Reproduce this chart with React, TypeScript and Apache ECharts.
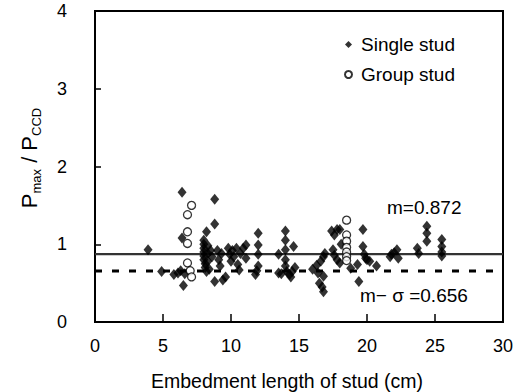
import React, { useEffect, useRef } from "react";
import * as echarts from "echarts";

const singleStud: number[][] = [
  [3.9, 0.93], [4.9, 0.65], [5.8, 0.61], [6.1, 0.63], [6.3, 0.66], [6.4, 1.67], [6.4, 1.08],
  [6.5, 0.47], [6.6, 0.62],
  [8.0, 1.05], [8.0, 1.0], [8.0, 0.95], [8.0, 0.9], [8.0, 0.85], [8.0, 0.8], [8.1, 0.75],
  [8.1, 0.7], [8.2, 0.65], [8.2, 1.16], [8.3, 0.98], [8.3, 0.88], [8.3, 0.78], [8.4, 0.68],
  [8.5, 0.92], [8.6, 0.84], [8.8, 1.58], [8.8, 1.26], [8.8, 0.52],
  [9.0, 0.92], [9.1, 0.8], [9.2, 0.72], [9.3, 0.88], [9.4, 0.54], [9.6, 0.58],
  [9.8, 0.95], [9.9, 0.87], [10.0, 0.78], [10.1, 0.92], [10.2, 0.84], [10.4, 0.95],
  [10.5, 0.74], [10.6, 0.67], [10.7, 0.88], [10.9, 0.95], [11.1, 0.99], [11.1, 0.82],
  [11.8, 0.61], [11.9, 0.66], [12.0, 1.14], [12.0, 0.99], [12.0, 0.87], [12.0, 0.72],
  [13.5, 0.87], [13.5, 0.63], [13.7, 0.62],
  [14.0, 1.17], [14.0, 1.05], [14.0, 0.93], [14.0, 0.8], [14.0, 0.72], [14.1, 0.65],
  [14.3, 0.61], [14.5, 0.65], [14.6, 0.97], [14.7, 0.7], [14.4, 0.58],
  [16.0, 0.68], [16.3, 0.73], [16.4, 0.63], [16.5, 0.5], [16.6, 0.78], [16.7, 0.45],
  [16.8, 0.39], [16.8, 0.59], [16.8, 0.84], [16.9, 0.88],
  [17.4, 1.17], [17.5, 0.93], [17.6, 1.12], [17.6, 0.86], [17.8, 1.19], [17.8, 0.8],
  [18.0, 1.19], [18.0, 0.76], [18.1, 1.0], [18.8, 0.69],
  [19.3, 0.74], [19.4, 0.52], [19.7, 1.19], [19.7, 0.97], [19.8, 0.87], [19.9, 0.82],
  [20.0, 0.8], [20.2, 0.78], [20.7, 0.72],
  [21.7, 0.84], [21.8, 0.87], [22.0, 0.89], [22.2, 0.93], [22.3, 0.82],
  [23.7, 0.95], [23.8, 0.88], [24.4, 1.23], [24.4, 1.14], [24.4, 1.04],
  [25.5, 1.06], [25.5, 0.97], [25.5, 0.9], [25.5, 0.85],
];

const groupStud: number[][] = [
  [6.8, 1.38], [7.1, 1.5], [6.8, 1.16], [6.8, 1.01], [6.8, 0.76], [7.0, 0.66], [7.1, 0.58],
  [18.5, 1.31], [18.5, 1.12], [18.5, 1.04], [18.5, 0.96], [18.5, 0.9], [18.5, 0.84], [18.5, 0.79],
];

const meanValue = 0.872;
const meanMinusSigma = 0.656;
const xRange = [0, 30];
const yRange = [0, 4];

const FONT = "'Liberation Sans', Arial, sans-serif";

export default function App() {
  const ref = useRef<HTMLDivElement>(null);
  useEffect(() => {
    if (!ref.current) return;
    const chart = echarts.init(ref.current, undefined, { renderer: "svg" });
    chart.setOption({
      animation: false,
      backgroundColor: "#fff",
      textStyle: { fontFamily: FONT },
      grid: { left: 95, right: 28, top: 11, bottom: 70, show: true, borderColor: "#000", borderWidth: 2 },
      legend: {
        data: ["Single stud", "Group stud"],
        orient: "vertical",
        left: 339,
        top: 30,
        itemWidth: 7,
        itemHeight: 7,
        itemGap: 11,
        textStyle: { fontSize: 19, color: "#000", fontFamily: FONT, padding: [0, 0, 0, 4] },
      },
      xAxis: {
        type: "value",
        min: xRange[0],
        max: xRange[1],
        interval: 5,
        axisLine: { lineStyle: { color: "#000", width: 2 } },
        axisTick: { inside: true, length: 8, lineStyle: { color: "#000", width: 1.5 } },
        axisLabel: { fontSize: 18, color: "#000", margin: 15, fontFamily: FONT },
        splitLine: { show: false },
      },
      yAxis: {
        type: "value",
        min: yRange[0],
        max: yRange[1],
        interval: 1,
        axisLine: { lineStyle: { color: "#000", width: 2 } },
        axisTick: { inside: true, length: 6, lineStyle: { color: "#000", width: 1.5 } },
        axisLabel: { fontSize: 18, color: "#000", margin: 28, fontFamily: FONT },
        splitLine: { show: false },
      },
      series: [
        {
          name: "mean",
          type: "line",
          data: [[xRange[0], meanValue], [xRange[1], meanValue]],
          symbol: "none",
          lineStyle: { color: "#333", width: 2.2 },
          z: 1,
        },
        {
          name: "meanMinusSigma",
          type: "line",
          data: [[xRange[0], meanMinusSigma], [29.3, meanMinusSigma]],
          symbol: "none",
          lineStyle: { color: "#000", width: 3, type: [7, 10] },
          z: 1,
        },
        {
          name: "Single stud",
          type: "scatter",
          data: singleStud,
          symbol: "diamond",
          symbolSize: [9, 11],
          itemStyle: { color: "#000" },
          z: 3,
        },
        {
          name: "Group stud",
          type: "scatter",
          data: groupStud,
          symbol: "circle",
          symbolSize: 8,
          itemStyle: { color: "#fff", borderColor: "#000", borderWidth: 1.3 },
          z: 4,
        },
      ],
      graphic: [
        {
          type: "text",
          x: 29,
          y: 158,
          rotation: Math.PI / 2,
          style: {
            text: "{p|P}{s|max}{p| / P}{s|CCD}",
            align: "center",
            verticalAlign: "middle",
            fill: "#000",
            rich: {
              p: { fontSize: 22, fontFamily: FONT, fill: "#000", lineHeight: 28, verticalAlign: "middle" },
              s: { fontSize: 13, fontFamily: FONT, fill: "#000", lineHeight: 28, verticalAlign: "bottom" },
            },
          },
        },
        {
          type: "text",
          x: 287,
          y: 381,
          style: {
            text: "Embedment length of stud (cm)",
            align: "center",
            verticalAlign: "middle",
            fontSize: 19.5,
            fontFamily: FONT,
            fill: "#000",
          },
        },
        {
          type: "text",
          x: 387,
          y: 207,
          style: {
            text: "m=0.872",
            verticalAlign: "middle",
            fontSize: 19,
            fontFamily: FONT,
            fill: "#000",
          },
        },
        {
          type: "text",
          x: 360,
          y: 295,
          style: {
            text: "m\u2212 \u03c3 =0.656",
            verticalAlign: "middle",
            fontSize: 19,
            fontFamily: FONT,
            fill: "#000",
          },
        },
      ],
    });
    return () => chart.dispose();
  }, []);
  return <div ref={ref} style={{ position: "fixed", left: 0, top: 0, width: 531, height: 392 }} />;
}
